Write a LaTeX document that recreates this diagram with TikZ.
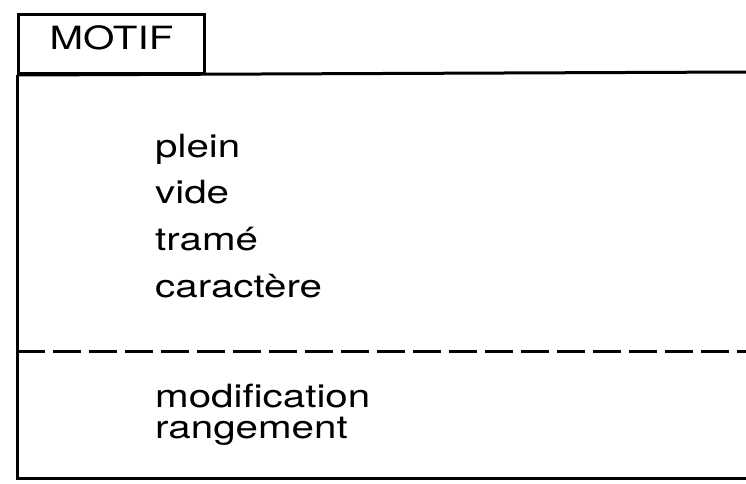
\documentclass[tikz,border=0pt]{standalone}
\usepackage{fontspec}
\setmainfont[FakeStretch=1.26]{TeX Gyre Heros}
\usetikzlibrary{positioning}

\tikzset{
  trait/.style={line width=3pt},
  entree/.style={font=\fontsize{32}{32}\selectfont,anchor=base west,inner sep=0pt}
}

\begin{document}
\begin{tikzpicture}[x=1pt,y=-1pt]
        \useasboundingbox (0,0) rectangle (746,483);
        % onglet
        \node[trait,draw,anchor=north west,inner sep=0pt,minimum width=186pt,minimum height=59pt,
              text height=23pt,text depth=12pt,font=\fontsize{32}{32}\selectfont] (motif) at (17,13) {MOTIF};
        % attributs
        \begin{scope}[every node/.style={entree}]
          \node (plein) at (155,157) {plein};
          \node (vide) at (155,203) {vide};
          \node (trame) at (155,250) {tramé};
          \node (car) at (155,297) {caractère};
          \node (modif) at (155,407) {modification};
          \node (rang) at (155,438) {rangement};
        \end{scope}
        % cadre
        \coordinate (hd) at (746,72);
        \coordinate (bg) at (17,478);
        \coordinate (bd) at (746,478);
        \coordinate (tg) at (17,351);
        \coordinate (td) at (746,351);
        \draw[trait] (motif.south west) -- (hd);
        \draw[trait] (motif.south west) -- (bg) -- (bd);
        \draw[trait,dash pattern=on 28pt off 8pt] (tg) -- (td);
      \end{tikzpicture}
\end{document}
